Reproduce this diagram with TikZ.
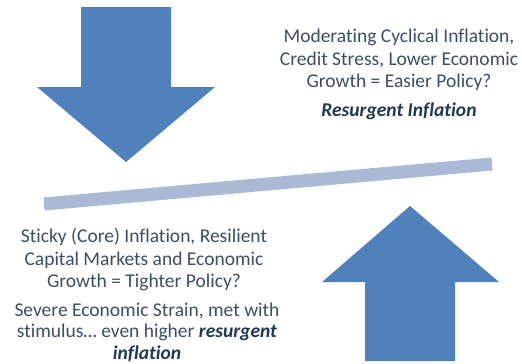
\documentclass[tikz,border=0pt]{standalone}
\usepackage{fontspec}
\setmainfont[Ligatures=NoCommon]{Carlito}
\definecolor{arrowblue}{RGB}{79,129,189}
\definecolor{barblue}{RGB}{169,185,214}
\definecolor{txt}{RGB}{59,78,102}
\definecolor{txtb}{RGB}{31,56,88}
\begin{document}
\begin{tikzpicture}[x=1pt,y=-1pt,
  bigarrow/.style={fill=arrowblue,draw=none},
  label/.style={align=center,text=txt,inner sep=0pt,font=\fontsize{19.5}{22.5}\selectfont},
  emph/.style={label,text=txtb,font=\fontsize{19.5}{22.5}\selectfont\bfseries\itshape}]
\useasboundingbox (0,0) rectangle (522,364);
% down arrow
\path[bigarrow] (81,7) -- (171,7) -- (171,87) -- (215,87) -- (126,162) -- (37,87) -- (81,87) -- cycle;
% up arrow
\path[bigarrow] (410,206) -- (499,282) -- (455,282) -- (455,361) -- (365,361) -- (365,282) -- (322,282) -- cycle;
% tilted bar
\coordinate (barL) at (44,204);
\coordinate (barR) at (492,164);
\draw[barblue,line width=13pt] (barL) -- (barR);
% texts
\node[label] (tr) at (399,60) {Moderating Cyclical Inflation,\\Credit Stress, Lower Economic\\Growth = Easier Policy?};
\node[emph] (tre) at (399,111) {Resurgent Inflation};
\node[label] (bl) at (144,260) {Sticky (Core) Inflation, Resilient\\Capital Markets and Economic\\Growth = Tighter Policy?};
\node[label,font=\fontsize{19.5}{21.5}\selectfont] (bl2) at (147,332) {Severe Economic Strain, met with\\stimulus\dots{} even higher \textcolor{txtb}{\textbf{\textit{resurgent}}}\\\textcolor{txtb}{\textbf{\textit{inflation}}}};
\end{tikzpicture}
\end{document}
